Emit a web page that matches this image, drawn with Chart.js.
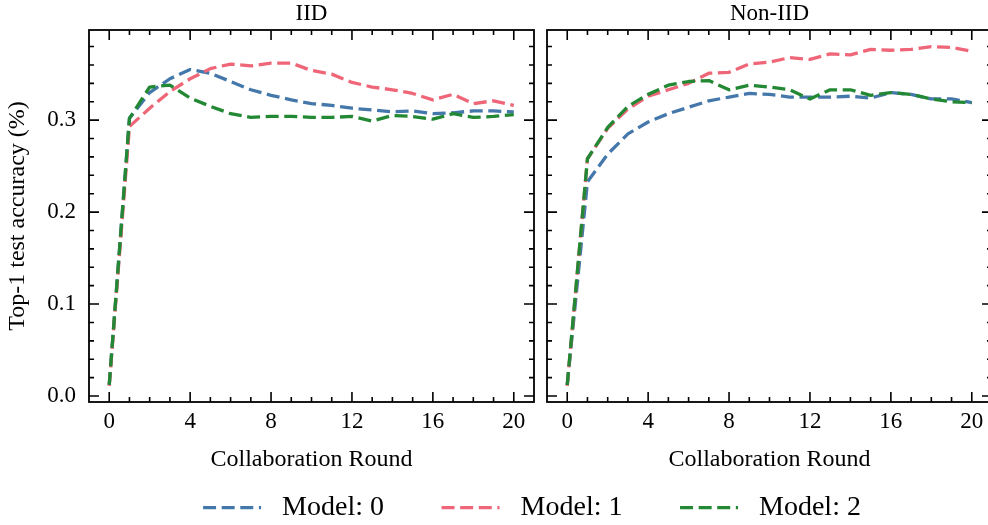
<!DOCTYPE html>
<html>
<head>
<meta charset="utf-8">
<script src="https://cdn.jsdelivr.net/npm/chart.js@4.4.1/dist/chart.umd.min.js"></script>
<style>
  html, body { margin: 0; padding: 0; background: #fff; }
  body { width: 988px; height: 525px; overflow: hidden; position: relative; }
  canvas { position: absolute; }
</style>
</head>
<body>
<canvas id="left" width="540" height="480" style="left:0;top:0;width:540px;height:480px"></canvas>
<canvas id="right" width="460" height="480" style="left:540px;top:0;width:460px;height:480px"></canvas>
<canvas id="legend" width="988" height="240" style="left:0;top:436px;width:988px;height:240px"></canvas>
<script>
// ---- data ----
const rounds = [0,1,2,3,4,5,6,7,8,9,10,11,12,13,14,15,16,17,18,19,20];
const modelNames = ['Model: 0', 'Model: 1', 'Model: 2'];
const panelTitles = ['IID', 'Non-IID'];

const iidModel0 = [0.012, 0.302, 0.330, 0.345, 0.355, 0.351, 0.342, 0.333, 0.327, 0.322, 0.318, 0.316, 0.313, 0.311, 0.309, 0.310, 0.307, 0.308, 0.310, 0.310, 0.309];
const iidModel1 = [0.011, 0.293, 0.313, 0.331, 0.345, 0.356, 0.361, 0.359, 0.362, 0.362, 0.354, 0.350, 0.341, 0.336, 0.333, 0.329, 0.322, 0.328, 0.318, 0.321, 0.316];
const iidModel2 = [0.012, 0.302, 0.336, 0.338, 0.324, 0.315, 0.307, 0.303, 0.304, 0.304, 0.303, 0.303, 0.304, 0.299, 0.305, 0.304, 0.301, 0.307, 0.303, 0.304, 0.306];

const nonIidModel0 = [0.012, 0.233, 0.263, 0.285, 0.298, 0.307, 0.314, 0.321, 0.325, 0.329, 0.328, 0.325, 0.325, 0.325, 0.326, 0.324, 0.330, 0.328, 0.323, 0.323, 0.319];
const nonIidModel1 = [0.011, 0.258, 0.291, 0.312, 0.326, 0.333, 0.340, 0.351, 0.352, 0.361, 0.363, 0.368, 0.366, 0.372, 0.371, 0.377, 0.376, 0.377, 0.380, 0.379, 0.375];
const nonIidModel2 = [0.012, 0.258, 0.292, 0.315, 0.328, 0.338, 0.342, 0.343, 0.333, 0.338, 0.336, 0.333, 0.323, 0.333, 0.333, 0.327, 0.330, 0.328, 0.323, 0.320, 0.319];

const xMajorTicks = [0, 4, 8, 12, 16, 20];
const xMinorTicks = [1, 2, 3, 5, 6, 7, 9, 10, 11, 13, 14, 15, 17, 18, 19];
const yMajorTicks = [0.0, 0.1, 0.2, 0.3];
const yMinorTicks = [0.02, 0.04, 0.06, 0.08, 0.12, 0.14, 0.16, 0.18, 0.22, 0.24, 0.26, 0.28, 0.32, 0.34, 0.36, 0.38];

// ---- styles ----
const colors = ['#4477AA', '#EE6677', '#228833'];
const LINE_W = 3.3;
const DASH = [13, 5.6];
const FONT = "'Liberation Serif', 'Times New Roman', 'DejaVu Serif', serif";

Chart.defaults.font.family = FONT;
Chart.defaults.color = '#000';

const frameTicks = {
  id: 'frameTicks',
  afterDatasetsDraw(chart) {
    const {ctx, chartArea: a, scales: {x, y}} = chart;
    ctx.save();
    ctx.strokeStyle = '#000';
    ctx.setLineDash([]);
    ctx.lineWidth = 1.6;
    ctx.beginPath();
    const vTick = (v, len) => {
      const px = x.getPixelForValue(v);
      ctx.moveTo(px, a.bottom); ctx.lineTo(px, a.bottom - len);
      ctx.moveTo(px, a.top); ctx.lineTo(px, a.top + len);
    };
    const hTick = (v, len) => {
      const py = y.getPixelForValue(v);
      ctx.moveTo(a.left, py); ctx.lineTo(a.left + len, py);
      ctx.moveTo(a.right, py); ctx.lineTo(a.right - len, py);
    };
    xMajorTicks.forEach(v => vTick(v, 10));
    xMinorTicks.forEach(v => vTick(v, 5));
    yMajorTicks.forEach(v => hTick(v, 10));
    yMinorTicks.forEach(v => hTick(v, 5));
    ctx.stroke();
    ctx.lineWidth = 1.8;
    ctx.strokeRect(a.left, a.top, a.right - a.left, a.bottom - a.top);
    ctx.restore();
  }
};

function ds(i, vals) {
  return {
    label: modelNames[i],
    data: rounds.map((r, k) => ({x: r, y: vals[k]})),
    borderColor: colors[i],
    backgroundColor: colors[i],
    borderWidth: LINE_W,
    borderDash: DASH,
    borderCapStyle: 'butt',
    borderJoinStyle: 'round',
    pointRadius: 0,
    tension: 0,
    fill: false,
    order: 3 - i
  };
}

function panel(title, series, showY, pad) {
  return {
    type: 'line',
    data: { datasets: series.map((s, i) => ds(i, s)) },
    options: {
      responsive: false,
      animation: false,
      devicePixelRatio: 1,
      layout: { padding: pad },
      plugins: {
        legend: { display: false },
        tooltip: { enabled: false },
        title: {
          display: true, text: title, fullSize: false, color: '#000',
          font: { size: 23, weight: 'normal' },
          padding: { top: 0.5, bottom: 1.9 }
        }
      },
      scales: {
        x: {
          type: 'linear', min: -1, max: 21,
          grid: { display: false, drawTicks: false },
          border: { display: false },
          afterBuildTicks: s => { s.ticks = xMajorTicks.map(v => ({value: v})); },
          ticks: { autoSkip: false, maxRotation: 0, padding: 6.2, font: { size: 23 }, color: '#000',
                   callback: v => String(v) },
          title: { display: true, text: 'Collaboration Round', color: '#000',
                   font: { size: 24 }, padding: { top: 0, bottom: 5.4 } },
          afterFit: s => { s.height = 78; }
        },
        y: {
          display: showY,
          min: -0.0065, max: 0.398,
          grid: { display: false, drawTicks: false },
          border: { display: false },
          afterBuildTicks: s => { s.ticks = yMajorTicks.map(v => ({value: v})); },
          ticks: { padding: 13, font: { size: 23 }, color: '#000',
                   callback: v => Number(v).toFixed(1) },
          title: { display: true, text: 'Top-1 test accuracy (%)', color: '#000',
                   font: { size: 24 }, padding: { top: 3.5, bottom: 0 } },
          afterFit: s => { s.width = showY ? 89 : 0; }
        }
      }
    },
    plugins: [frameTicks]
  };
}

new Chart(document.getElementById('left'),
  panel(panelTitles[0], [iidModel0, iidModel1, iidModel2], true, {left: 0, right: 6, top: 0, bottom: 0}));
new Chart(document.getElementById('right'),
  panel(panelTitles[1], [nonIidModel0, nonIidModel1, nonIidModel2], false, {left: 7, right: 8, top: 0, bottom: 0}));

// legend-only chart
new Chart(document.getElementById('legend'), {
  type: 'line',
  data: { datasets: modelNames.map((n, i) => ({
    label: n, data: [], borderColor: colors[i], backgroundColor: colors[i],
    borderWidth: LINE_W, borderDash: DASH, borderCapStyle: 'butt'
  })) },
  options: {
    responsive: false, animation: false, devicePixelRatio: 1,
    layout: { padding: { left: 76, right: 0, top: 0, bottom: 0 } },
    scales: { x: { display: false }, y: { display: false } },
    plugins: {
      tooltip: { enabled: false },
      legend: {
        display: true, position: 'top',
        labels: {
          usePointStyle: true, pointStyleWidth: 58, boxHeight: 10,
          padding: 57.6, color: '#000',
          font: { size: 28 },
          generateLabels: chart => chart.data.datasets.map((d, i) => ({
            text: ' ' + d.label,
            fillStyle: d.borderColor,
            strokeStyle: d.borderColor,
            lineWidth: d.borderWidth,
            lineDash: d.borderDash,
            lineCap: 'butt',
            pointStyle: 'line',
            hidden: false,
            datasetIndex: i
          }))
        }
      }
    }
  }
});
</script>
</body>
</html>
